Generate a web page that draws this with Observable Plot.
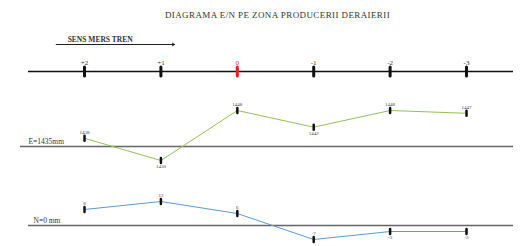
<!DOCTYPE html>
<html>
<head>
<meta charset="utf-8">
<script src="https://cdn.jsdelivr.net/npm/d3@7"></script>
<script src="https://cdn.jsdelivr.net/npm/@observablehq/plot@0.6"></script>
<style>
  html, body { margin: 0; padding: 0; background: #fff; }
  #wrap { width: 529px; }
  #title { height: 30px; line-height: 30px; text-align: center; padding-left: 26px; box-sizing: border-box;
    font-family: "Liberation Serif", "DejaVu Serif", serif; font-size: 9px; color: #333; letter-spacing: 0.4px; }
  svg { display: block; }
</style>
</head>
<body>
<div id="wrap">
  <div id="title">DIAGRAMA E/N PE ZONA PRODUCERII DERAIERII</div>
  <div id="chart"></div>
</div>
<script>
// ---- data ----
const positions = [2, 1, 0, -1, -2, -3];
const positionLabels = ["+2", "+1", "0", "-1", "-2", "-3"];
const gaugeE = [1438, 1430, 1448, 1442, 1448, 1447];
const levelN = [8, 12, 6, -7, -3, -3];
const gaugeNominal = 1435;
const levelNominal = 0;
const gaugeLabel = "E=1435mm";
const levelLabel = "N=0 mm";
const directionLabel = "SENS MERS TREN";
const directionFrom = 2.37;
const directionTo = 0.82;

// ---- build ----
const serif = "Liberation Serif, DejaVu Serif, serif";
const rows = positions.map((p, i) => ({p, lab: positionLabels[i], e: gaugeE[i], n: levelN[i]}));
const vbar = h => ({draw(ctx) { ctx.moveTo(0, -h / 2); ctx.lineTo(0, h / 2); }});
const xDom = [2.733, -3.615];
const W = 529;

const axisPlot = Plot.plot({
  width: W, height: 60, marginLeft: 28, marginRight: 16, marginTop: 0, marginBottom: 0,
  style: {fontFamily: serif, background: "white"},
  x: {domain: xDom, axis: null},
  y: {type: "point", domain: ["sens", "axis"], range: [14, 41], padding: 0, axis: null},
  marks: [
    Plot.ruleY(["axis"], {stroke: "#111", strokeWidth: 1.5}),
    Plot.arrow([{a: directionFrom, b: directionTo}], {x1: "a", x2: "b", y1: () => "sens", y2: () => "sens", stroke: "#222", strokeWidth: 1, headLength: 4, bend: 0}),
    Plot.text([directionLabel], {x: () => directionFrom - 0.15, y: () => "sens", text: d => d, textAnchor: "start", dy: -5, fontSize: 7.5, fontWeight: "bold", fill: "#333"}),
    Plot.dot(rows, {x: "p", y: () => "axis", symbol: vbar(9), r: 3, fill: "none", stroke: d => d.p === 0 ? "#e0201c" : "#111", strokeWidth: 3, strokeLinecap: "round"}),
    Plot.text(rows, {x: "p", y: () => "axis", text: "lab", dy: -9, fontSize: 7, fill: d => d.p === 0 ? "#e0201c" : "#333"})
  ]
});

const eBelow = new Set([1, -1]);
const ePlot = Plot.plot({
  width: W, height: 80, marginLeft: 20, marginRight: 16, marginTop: 20, marginBottom: 10,
  style: {fontFamily: serif, background: "white"},
  x: {domain: [2.838, -3.615], axis: null},
  y: {domain: [1430, 1448], axis: null},
  marks: [
    Plot.ruleY([gaugeNominal], {stroke: "#666", strokeWidth: 1.5}),
    Plot.text([gaugeLabel], {y: () => gaugeNominal, frameAnchor: "left", text: d => d, textAnchor: "start", dx: 8, dy: -5, fontSize: 7.5, fill: "#333"}),
    Plot.line(rows, {x: "p", y: "e", stroke: "#93c25a", strokeWidth: 1}),
    Plot.dot(rows, {x: "p", y: "e", symbol: vbar(5), r: 3, fill: "none", stroke: "#111", strokeWidth: 2.5, strokeLinecap: "round"}),
    Plot.text(rows, {x: "p", y: "e", text: d => String(d.e), fontSize: 5, fill: "#444", filter: d => !eBelow.has(d.p), dy: -6}),
    Plot.text(rows, {x: "p", y: "e", text: d => String(d.e), fontSize: 5, fill: "#444", filter: d => eBelow.has(d.p), dy: 6})
  ]
});

const nBelow = new Set([-2, -3]);
const nPlot = Plot.plot({
  width: W, height: 76, marginLeft: 28, marginRight: 16, marginTop: 31, marginBottom: 7,
  style: {fontFamily: serif, background: "white"},
  x: {domain: xDom, axis: null},
  y: {domain: [-7, 12], axis: null},
  marks: [
    Plot.ruleY([levelNominal], {stroke: "#666", strokeWidth: 1.5}),
    Plot.text([levelLabel], {y: () => levelNominal, frameAnchor: "left", text: d => d, textAnchor: "start", dx: 5, dy: -5, fontSize: 7.5, fill: "#333"}),
    Plot.line(rows, {x: "p", y: "n", stroke: "#5b9bd5", strokeWidth: 1}),
    Plot.dot(rows, {x: "p", y: "n", symbol: vbar(5), r: 3, fill: "none", stroke: "#111", strokeWidth: 2.5, strokeLinecap: "round"}),
    Plot.text(rows, {x: "p", y: "n", text: d => String(d.n), fontSize: 5, fill: "#444", filter: d => !nBelow.has(d.p), dy: -6}),
    Plot.text(rows, {x: "p", y: "n", text: d => String(d.n), fontSize: 5, fill: "#444", filter: d => nBelow.has(d.p), dy: 6})
  ]
});

document.getElementById("chart").append(axisPlot, ePlot, nPlot);
</script>
</body>
</html>
